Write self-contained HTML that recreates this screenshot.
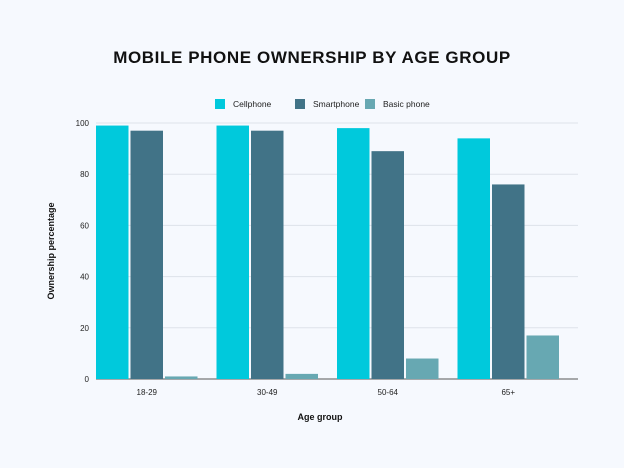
<!DOCTYPE html>
<html><head><meta charset="utf-8"><style>
body{margin:0;background:#f6f9fe;font-family:"Liberation Sans",sans-serif}
svg{display:block}
</style></head><body>
<svg width="624" height="468">
<rect width="624" height="468" fill="#f6f9fe"/>
<text x="312" y="63" text-anchor="middle" font-size="17" font-weight="bold" fill="#111" letter-spacing="0.6">MOBILE PHONE OWNERSHIP BY AGE GROUP</text>
<g id="legend"></g>
<g id="grid"></g>
<g id="bars"></g>
<g id="xl"></g>
<text x="320" y="420" text-anchor="middle" font-size="9" font-weight="bold" fill="#111">Age group</text>
<text transform="translate(54,251) rotate(-90)" text-anchor="middle" font-size="9" font-weight="bold" fill="#111">Ownership percentage</text>
</svg>
<script>
const categories=["18-29","30-49","50-64","65+"];
const seriesNames=["Cellphone","Smartphone","Basic phone"];
const cellphone=[99,99,98,94];
const smartphone=[97,97,89,76];
const basic=[1,2,8,17];
const yTicks=[0,20,40,60,80,100];
const colors=["#00c9dc","#417387","#67a8b2"];
const NS="http://www.w3.org/2000/svg";
const x0=96,x1=578,yb=379,yt=123,yMax=100;
const y=v=>yb-(v/yMax)*(yb-yt);
const pitch=(x1-x0)/categories.length, bw=32.5, gap=2;
function mk(t,a,p){const e=document.createElementNS(NS,t);for(const k in a)e.setAttribute(k,a[k]);p.appendChild(e);return e;}
const grid=document.getElementById('grid');
yTicks.forEach(t=>{
 const l=mk('line',{x1:x0,x2:x1,y1:y(t),y2:y(t),stroke:t===0?'#777':'#dde2ea','stroke-width':t===0?1.2:1},grid);
 
 
 const tx=mk('text',{x:89,y:y(t)+3,'text-anchor':'end','font-size':8,fill:'#222'},grid);
 tx.textContent=t;
 
 
});
const bars=document.getElementById('bars'),xl=document.getElementById('xl');
[cellphone,smartphone,basic].forEach((s,si)=>{
 s.forEach((v,i)=>{
  const bx=x0+i*pitch+si*(bw+gap);
  const r=mk('rect',{x:bx,y:y(v),width:bw,height:yb-y(v),fill:colors[si]},bars);
  
  
 });
});
categories.forEach((c,i)=>{
 const t=mk('text',{x:x0+i*pitch+1.5*bw+gap,y:395,'text-anchor':'middle','font-size':8,fill:'#222'},xl);
 t.textContent=c;
 
 
});
const lg=document.getElementById('legend');
const lx=[215,295,365];
seriesNames.forEach((n,i)=>{
 const r=mk('rect',{x:lx[i],y:99,width:10,height:10,fill:colors[i]},lg);
 
 
 const t=mk('text',{x:lx[i]+18,y:107,'font-size':8.5,fill:'#222'},lg);
 t.textContent=n;
 
 
});
</script>
</body></html>
